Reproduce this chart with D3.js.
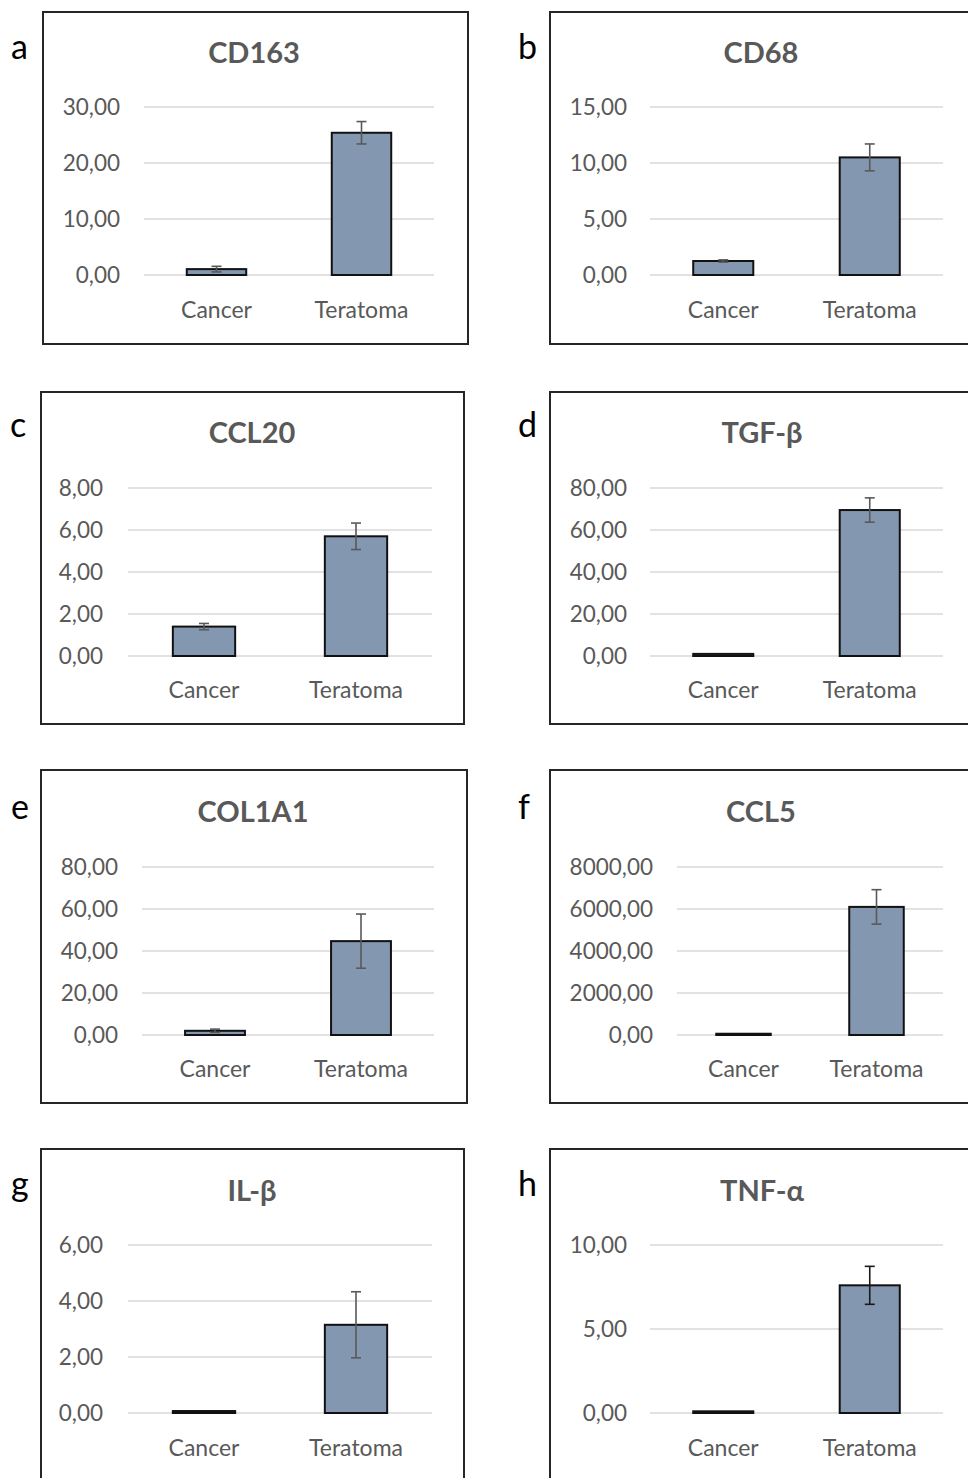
<!DOCTYPE html>
<html><head><meta charset="utf-8">
<script src="https://cdn.jsdelivr.net/npm/d3@7"></script>
<style>body{margin:0;background:#fff;} svg{display:block}</style>
</head><body>
<svg id="c" width="968" height="1478"></svg>
<script>
// ---- data ----
const categories = ["Cancer", "Teratoma"];
const genes = ["CD163", "CD68", "CCL20", "TGF-β", "COL1A1", "CCL5", "IL-β", "TNF-α"];
const panelLetters = ["a", "b", "c", "d", "e", "f", "g", "h"];
const cancerMeans = [1.05, 1.25, 1.4, 1.0, 2.0, 60, 0.07, 0.1];
const cancerErrors = [0.5, 0.1, 0.15, 0.0, 0.8, 0, 0.0, 0.0];
const teratomaMeans = [25.4, 10.5, 5.7, 69.5, 44.7, 6100, 3.15, 7.6];
const teratomaErrors = [2.0, 1.2, 0.63, 5.8, 12.9, 820, 1.18, 1.13];
const yMax = [30, 15, 8, 80, 80, 8000, 6, 10];
const yStep = [10, 5, 2, 20, 20, 2000, 2, 5];

// ---- layout (positions only) ----
const layout = [
  {box:[43,12,425,332],  plot:[144,434,107,275], labelRight:120, titleX:254, titleY:63,  letterX:11,  letterY:59,  catY:318},
  {box:[550,12,430,332], plot:[650,943,107,275], labelRight:627, titleX:761, titleY:63,  letterX:518, letterY:59,  catY:318},
  {box:[41,392,423,332], plot:[128,432,488,656], labelRight:103, titleX:252, titleY:443, letterX:10,  letterY:437, catY:698},
  {box:[550,392,430,332],plot:[650,943,488,656], labelRight:627, titleX:762, titleY:443, letterX:518, letterY:437, catY:698},
  {box:[41,770,426,333], plot:[142,434,867,1035],labelRight:118, titleX:253, titleY:822, letterX:11,  letterY:819, catY:1077},
  {box:[550,770,430,333],plot:[677,943,867,1035],labelRight:653, titleX:761, titleY:822, letterX:518, letterY:819, catY:1077},
  {box:[41,1149,423,340],plot:[128,432,1245,1413],labelRight:103,titleX:252, titleY:1201,letterX:11,  letterY:1196,catY:1456},
  {box:[550,1149,430,340],plot:[650,943,1245,1413],labelRight:627,titleX:762,titleY:1201,letterX:518, letterY:1196,catY:1456}
];
const errColors = ["#595959","#595959","#595959","#595959","#595959","#595959","#595959","#1a1a1a"];

const svg = d3.select("#c");
const FONT = "Lato, 'Open Sans', sans-serif";
const fmt = v => d3.format(".2f")(v).replace(".", ",");

genes.forEach((gene, i) => {
  const L = layout[i];
  const g = svg.append("g");
  // frame
  g.append("rect").attr("x", L.box[0]).attr("y", L.box[1]).attr("width", L.box[2]).attr("height", L.box[3])
    .attr("fill", "none").attr("stroke", "#262626").attr("stroke-width", 2);
  // letter
  svg.append("text").attr("x", L.letterX).attr("y", L.letterY).text(panelLetters[i])
    .attr("font-family", FONT).attr("font-size", 34).attr("fill", "#000");
  // title
  g.append("text").attr("x", L.titleX).attr("y", L.titleY).attr("text-anchor", "middle").text(gene)
    .attr("font-family", FONT).attr("font-weight", "bold").attr("font-size", 29).attr("fill", "#595959");

  const x = d3.scaleBand().domain(categories).range([L.plot[0], L.plot[1]]).paddingInner(0.59).paddingOuter(0.295);
  const y = d3.scaleLinear().domain([0, yMax[i]]).range([L.plot[3], L.plot[2]]);
  const ticks = d3.range(0, yMax[i] + yStep[i] / 2, yStep[i]);

  // gridlines
  g.append("g").selectAll("line").data(ticks).join("line")
    .attr("x1", L.plot[0]).attr("x2", L.plot[1])
    .attr("y1", d => y(d)).attr("y2", d => y(d))
    .attr("stroke", "#d9d9d9").attr("stroke-width", 1.5);

  // y labels
  g.append("g").selectAll("text").data(ticks).join("text")
    .attr("x", L.labelRight).attr("y", d => y(d)).attr("dy", "0.35em").attr("text-anchor", "end")
    .text(d => fmt(d)).attr("font-family", FONT).attr("font-size", 22.5).attr("fill", "#595959");

  const rows = categories.map((c, k) => ({
    cat: c,
    mean: k === 0 ? cancerMeans[i] : teratomaMeans[i],
    err: k === 0 ? cancerErrors[i] : teratomaErrors[i]
  }));

  // bars
  g.append("g").selectAll("rect").data(rows).join("rect")
    .attr("x", d => x(d.cat)).attr("width", x.bandwidth())
    .attr("y", d => y(d.mean)).attr("height", d => y(0) - y(d.mean))
    .attr("fill", "#8497b0").attr("stroke", "#111").attr("stroke-width", 2);

  // error bars
  const eg = g.append("g").attr("stroke", errColors[i]).attr("stroke-width", 1.6);
  rows.filter(d => d.err > 0).forEach(d => {
    const cx = x(d.cat) + x.bandwidth() / 2;
    eg.append("line").attr("x1", cx).attr("x2", cx).attr("y1", y(d.mean + d.err)).attr("y2", y(d.mean - d.err));
    eg.append("line").attr("x1", cx - 5).attr("x2", cx + 5).attr("y1", y(d.mean + d.err)).attr("y2", y(d.mean + d.err));
    eg.append("line").attr("x1", cx - 5).attr("x2", cx + 5).attr("y1", y(d.mean - d.err)).attr("y2", y(d.mean - d.err));
  });

  // category labels
  g.append("g").selectAll("text").data(categories).join("text")
    .attr("x", d => x(d) + x.bandwidth() / 2).attr("y", L.catY).attr("text-anchor", "middle")
    .text(d => d).attr("font-family", FONT).attr("font-size", 23).attr("fill", "#595959");
});
</script>
</body></html>
